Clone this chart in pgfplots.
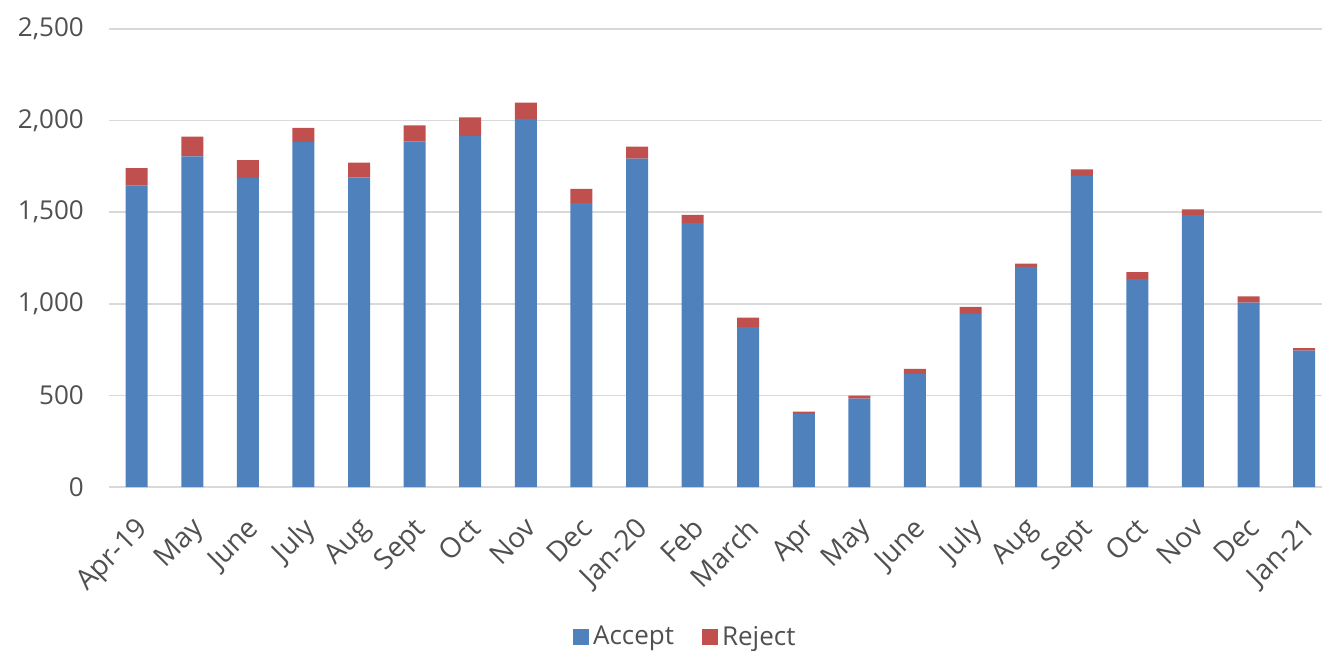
\documentclass[border=0pt]{standalone}
\usepackage{pgfplots}
\pgfplotsset{compat=1.18}
\usepackage{fontspec}
\setmainfont{Open Sans}
\definecolor{acc}{RGB}{79,129,189}
\definecolor{rej}{RGB}{192,80,77}
\definecolor{txt}{RGB}{80,80,80}
\definecolor{grd}{RGB}{217,217,217}
\newcommand{\lbl}{\fontsize{13}{15}\selectfont}
\newcommand{\xlbl}{\fontsize{14}{16}\selectfont}

\begin{document}
\begin{tikzpicture}
  \begin{axis}[
      name=ax,
      scale only axis,
      width=606.5pt, height=229pt,
      ybar stacked, bar width=11pt,
      xmin=-0.5, xmax=21.32,
      ymin=0, ymax=2500,
      ytick={0,500,...,2500},
      xtick=data,
      xticklabels={Apr-19, May, June, July, Aug, Sept, Oct, Nov, Dec, Jan-20, Feb, March,
                   Apr, May, June, July, Aug, Sept, Oct, Nov, Dec, Jan-21},
      axis line style={draw=none},
      tick style={draw=none},
      ymajorgrids, grid style={grd, line width=0.8pt},
      /pgf/number format/.cd, 1000 sep={,}, assume math mode=true, /pgfplots/.cd,
      yticklabel style={font=\lbl, text=txt, xshift=-9pt},
      % shifts are in the rotated frame
      xticklabel style={font=\xlbl, text=txt, rotate=45, anchor=north east,
                        xshift=-7.4pt, yshift=-5.9pt},
      legend style={at={(0.476,-0.3275)}, anchor=center, draw=none, font=\lbl,
                    text=txt, /tikz/every even column/.append style={column sep=12pt}},
      legend columns=2,
      legend image code/.code={\fill[#1] (0pt,-4pt) rectangle (8pt,4pt);},
    ]
    % Accept
    \addplot[fill=acc, draw=none] coordinates {
      (0,1645) (1,1805) (2,1687) (3,1883) (4,1690) (5,1885) (6,1916) (7,2009)
      (8,1550) (9,1792) (10,1441) (11,873) (12,399) (13,483) (14,617) (15,945)
      (16,1202) (17,1698) (18,1135) (19,1484) (20,1007) (21,745)};
    \addlegendentry{Accept}
    % Reject
    \addplot[fill=rej, draw=none] coordinates {
      (0,96) (1,107) (2,98) (3,77) (4,80) (5,89) (6,102) (7,89)
      (8,77) (9,66) (10,45) (11,52) (12,12) (13,16) (14,28) (15,38)
      (16,18) (17,36) (18,38) (19,31) (20,33) (21,13)};
    \addlegendentry{Reject}
  \end{axis}
  \pgfresetboundingbox
  \useasboundingbox (ax.south west) ++(-54.45pt,-81.5pt) rectangle ++(661pt,325pt);
\end{tikzpicture}
\end{document}
